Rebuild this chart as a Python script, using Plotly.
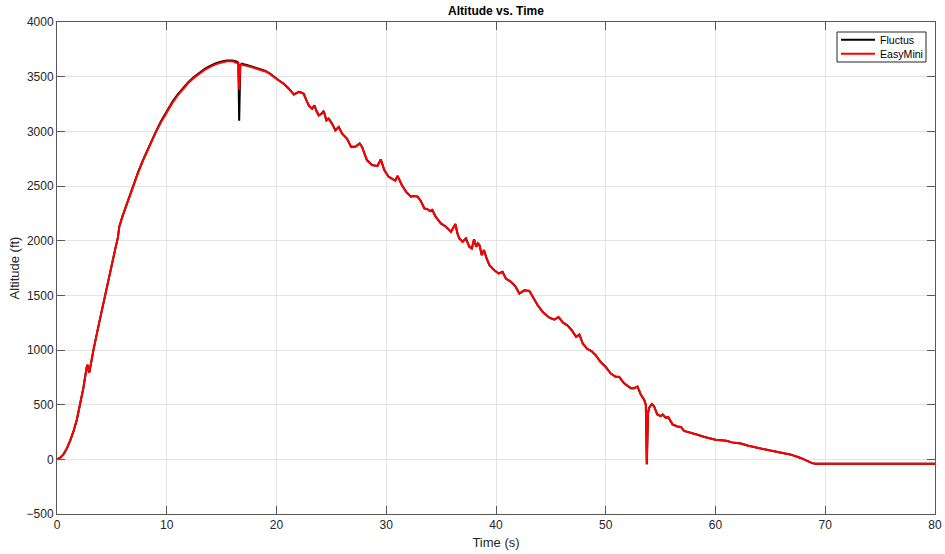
import plotly.graph_objects as go

# Flight time (s)
time_s = [
    0.0, 0.3, 0.6, 0.9, 1.2, 1.5, 1.8, 2.1, 2.4, 2.7, 2.78, 2.9, 2.95, 3.05, 3.3,
    3.8, 4.3, 4.8, 5.3, 5.55, 5.62, 5.68, 6.0, 6.5, 6.9, 7.4, 7.87, 8.4, 9.05,
    9.5, 10.0, 10.5, 11.0, 11.5, 12.0, 12.5, 13.0, 13.5, 14.0, 14.5, 15.0, 15.5,
    16.0, 16.4, 16.52, 16.6, 16.7, 16.83, 17.0, 17.3, 17.94, 18.3, 18.7, 19.0,
    19.4, 19.76, 20.2, 20.67, 21.0, 21.27, 21.58, 21.8, 22.03, 22.3, 22.48, 22.7,
    22.94, 23.24, 23.45, 23.65, 23.85, 24.1, 24.3, 24.55, 24.76, 25.06, 25.36,
    25.67, 25.97, 26.2, 26.42, 26.79, 27.18, 27.58, 27.79, 28.0, 28.24, 28.7,
    29.2, 29.5, 29.82, 30.2, 30.5, 30.82, 31.03, 31.42, 31.8, 32.25, 32.55, 32.86,
    33.16, 33.47, 33.77, 34.0, 34.2, 34.5, 34.98, 35.44, 35.9, 36.1, 36.3, 36.5,
    36.66, 36.96, 37.26, 37.57, 37.8, 38.0, 38.1, 38.2, 38.35, 38.5, 38.7, 38.9,
    39.15, 39.4, 39.85, 40.24, 40.6, 40.9, 41.37, 41.76, 42.13, 42.58, 43.04,
    43.34, 43.8, 44.26, 44.86, 45.32, 45.7, 46.1, 46.5, 46.9, 47.3, 47.6, 47.9,
    48.3, 48.7, 49.1, 49.54, 50.0, 50.46, 50.91, 51.22, 51.67, 52.28, 52.58,
    52.89, 53.2, 53.5, 53.65, 53.74, 53.85, 53.95, 54.2, 54.4, 54.7, 55.0, 55.2,
    55.47, 55.7, 56.08, 56.53, 56.84, 57.14, 57.75, 58.36, 59.0, 60.0, 60.5,
    61.0, 61.5, 62.3, 63.0, 64.0, 65.0, 66.0, 66.8, 67.7, 68.3, 68.8, 69.1,
    70.0, 75.0, 80.0,
]

# EasyMini altimeter (ft)
easymini_ft = [
    0, 15, 48, 100, 172, 255, 360, 490, 650, 840, 865, 800, 795, 850, 990,
    1230, 1470, 1700, 1920, 2030, 2075, 2130, 2232, 2378, 2492, 2625, 2740, 2862, 3000,
    3088, 3178, 3258, 3330, 3392, 3446, 3491, 3530, 3565, 3592, 3615, 3630, 3640,
    3640, 3630, 3620, 3378, 3600, 3612, 3605, 3600, 3579, 3570, 3555, 3548,
    3525, 3494, 3465, 3433, 3405, 3373, 3336, 3348, 3360, 3352, 3342, 3290,
    3236, 3206, 3236, 3185, 3145, 3160, 3185, 3100, 3115, 3070, 3009,
    3039, 2979, 2955, 2933, 2858, 2858, 2888, 2858, 2800, 2736, 2691,
    2682, 2742, 2645, 2585, 2565, 2549, 2591, 2509, 2448, 2402, 2408, 2402,
    2360, 2295, 2286, 2270, 2280, 2219, 2157, 2127, 2081, 2120, 2151, 2060,
    2020, 1989, 2020, 1943, 1928, 2011, 1960, 1943, 1975, 1958, 1867, 1913,
    1836, 1775, 1729, 1699, 1714, 1653, 1622, 1583, 1516, 1546, 1540,
    1485, 1408, 1347, 1295, 1277, 1301, 1250, 1225, 1180, 1120, 1140, 1060,
    1010, 990, 950, 889, 844, 784, 754, 754, 695, 650, 650,
    665, 590, 545, 500, -45, 420, 470, 506, 485, 410, 395, 410,
    380, 386, 320, 300, 296, 260, 245, 225, 205, 180, 175,
    170, 155, 145, 125, 100, 80, 60, 45, 15, -10, -35, -40,
    -40, -40, -40,
]

# Fluctus altimeter (ft)
fluctus_ft = [
    0, 15, 48, 100, 172, 255, 360, 490, 650, 840, 865, 800, 795, 850, 990,
    1230, 1470, 1700, 1920, 2030, 2075, 2130, 2233, 2380, 2495, 2629, 2745, 2868, 3007,
    3096, 3186, 3267, 3339, 3401, 3455, 3500, 3539, 3574, 3601, 3624, 3639, 3648,
    3648, 3638, 3626, 3097, 3606, 3620, 3614, 3608, 3586, 3576, 3560, 3552,
    3528, 3497, 3467, 3435, 3406, 3374, 3337, 3349, 3361, 3353, 3343, 3291,
    3237, 3207, 3237, 3186, 3146, 3161, 3186, 3101, 3116, 3071, 3010,
    3040, 2980, 2956, 2934, 2859, 2859, 2889, 2859, 2801, 2737, 2692,
    2683, 2743, 2646, 2586, 2566, 2550, 2592, 2510, 2449, 2403, 2409, 2403,
    2361, 2296, 2287, 2271, 2281, 2220, 2158, 2128, 2082, 2121, 2152, 2061,
    2021, 1990, 2021, 1944, 1929, 2012, 1961, 1944, 1976, 1959, 1868, 1914,
    1837, 1776, 1730, 1700, 1715, 1654, 1623, 1584, 1517, 1547, 1541,
    1486, 1409, 1348, 1296, 1278, 1302, 1251, 1226, 1181, 1121, 1141, 1061,
    1011, 991, 951, 890, 845, 785, 755, 755, 696, 651, 651,
    666, 591, 546, 501, -45, 420, 470, 506, 485, 410, 395, 410,
    380, 386, 320, 300, 296, 260, 245, 225, 205, 180, 175,
    170, 155, 145, 125, 100, 80, 60, 45, 15, -10, -35, -40,
    -40, -40, -40,
]

series_names = ["Fluctus", "EasyMini"]
series_colors = ["#000000", "#ff0000"]

x_ticks = [0, 10, 20, 30, 40, 50, 60, 70, 80]
y_ticks = [-500, 0, 500, 1000, 1500, 2000, 2500, 3000, 3500, 4000]

FONT = "Liberation Sans, Arial, Helvetica, sans-serif"
TEXT_COLOR = "#262626"
AXIS_LINE = "#595959"

W, H = 945, 554
M_L, M_R, M_T, M_B = 57, 10, 22, 40
PLOT_W = W - M_L - M_R
PLOT_H = H - M_T - M_B


def px_x(px):
    """Pixel column -> paper x (plot-area fraction)."""
    return (px - M_L) / PLOT_W


def px_y(py):
    """Pixel row -> paper y (plot-area fraction)."""
    return (H - M_B - py) / PLOT_H


fig = go.Figure()
for name, color, alt in zip(series_names, series_colors, [fluctus_ft, easymini_ft]):
    fig.add_trace(go.Scatter(x=time_s, y=alt, mode="lines", name=name,
                             line=dict(color=color, width=2), showlegend=False))

axis_common = dict(
    showline=True, linecolor=AXIS_LINE, linewidth=1, mirror="ticks",
    ticks="inside", ticklen=8, tickcolor=AXIS_LINE, tickwidth=1,
    showgrid=True, gridcolor="#e4e4e4", gridwidth=1, zeroline=False,
    automargin=False,
    tickfont=dict(family=FONT, size=12, color=TEXT_COLOR),
)

# Boxed legend in the upper-right corner of the axes
legend_box = dict(x0=837, x1=926, y0=32, y1=62)
legend_rows = [39.7, 53.7]
shapes = [dict(type="rect", xref="paper", yref="paper",
               x0=px_x(legend_box["x0"]), x1=px_x(legend_box["x1"]),
               y0=px_y(legend_box["y1"]), y1=px_y(legend_box["y0"]),
               line=dict(color=TEXT_COLOR, width=1), fillcolor="white", layer="above")]
annotations = []
for name, color, row in zip(series_names, series_colors, legend_rows):
    shapes.append(dict(type="line", xref="paper", yref="paper",
                       x0=px_x(841), x1=px_x(875), y0=px_y(row), y1=px_y(row),
                       line=dict(color=color, width=2), layer="above"))
    annotations.append(dict(text=name, xref="paper", yref="paper",
                            x=px_x(878), y=px_y(row), xanchor="left", yanchor="middle",
                            showarrow=False,
                            font=dict(family=FONT, size=10.6, color="#000000")))

fig.update_layout(
    width=W, height=H,
    margin=dict(l=M_L, r=M_R, t=M_T, b=M_B),
    paper_bgcolor="white", plot_bgcolor="white",
    font=dict(family=FONT, size=12, color=TEXT_COLOR),
    title=dict(text="<b>Altitude vs. Time</b>", x=0.5, xref="paper", xanchor="center",
               y=1 - 11 / H, yref="container", yanchor="middle",
               font=dict(family=FONT, size=12, color="#000000")),
    xaxis=dict(range=[0, 80], tickvals=x_ticks,
               title=dict(text="Time (s)", standoff=6,
                          font=dict(family=FONT, size=13, color=TEXT_COLOR)),
               **axis_common),
    yaxis=dict(range=[-500, 4000], tickvals=y_ticks,
               title=dict(text="Altitude (ft)", standoff=4,
                          font=dict(family=FONT, size=13, color=TEXT_COLOR)),
               **axis_common),
    shapes=shapes,
    annotations=annotations,
    showlegend=False,
)

fig.write_html("out.html")
